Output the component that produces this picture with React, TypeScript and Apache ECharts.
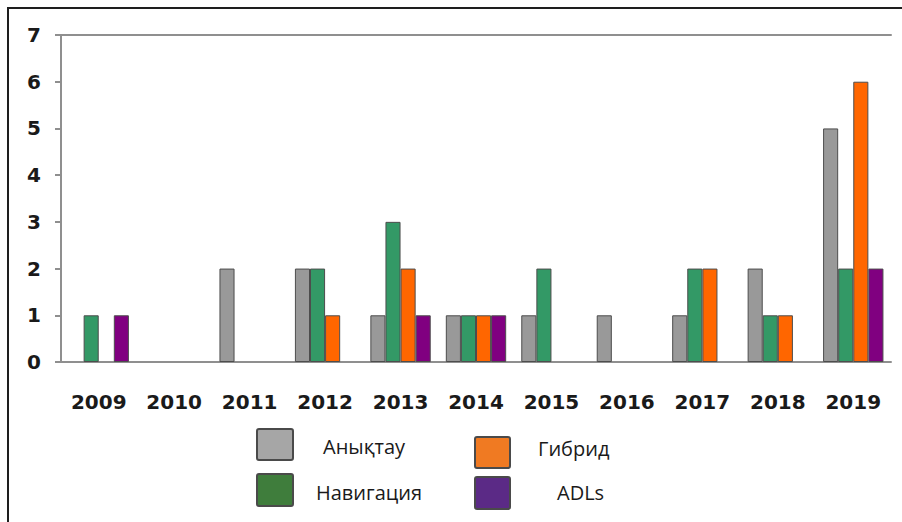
import React, { useEffect, useRef } from "react";
import * as echarts from "echarts";

const years = ["2009", "2010", "2011", "2012", "2013", "2014", "2015", "2016", "2017", "2018", "2019"];
const anyqtau = [0, 0, 2, 2, 1, 1, 1, 1, 1, 2, 5];
const navigatsiya = [1, 0, 0, 2, 3, 1, 2, 0, 2, 1, 2];
const gibrid = [0, 0, 0, 1, 2, 1, 0, 0, 2, 1, 6];
const adls = [1, 0, 0, 0, 1, 1, 0, 0, 0, 0, 2];

const seriesNames = ["Анықтау", "Навигация", "Гибрид", "ADLs"];
const barColors = ["#999999", "#339966", "#ff6600", "#800080"];
const legendColors = ["#a6a6a6", "#3f7d3c", "#f07a22", "#5b2a86"];

const AXIS_FONT = "'DejaVu Sans', Verdana, sans-serif";
const LEGEND_FONT = "'Open Sans', 'Noto Sans', sans-serif";

function legendEntry(
  color: string,
  label: string,
  box: { x: number; y: number; w: number; h: number },
  text: { x: number; y: number }
) {
  return [
    {
      type: "rect",
      shape: { x: box.x, y: box.y, width: box.w, height: box.h, r: 2 },
      style: { fill: color, stroke: "#4a4a4a", lineWidth: 2 },
    },
    {
      type: "text",
      x: text.x,
      y: text.y,
      style: {
        text: label,
        fill: "#1a1a1a",
        font: `20px ${LEGEND_FONT}`,
        textVerticalAlign: "middle",
      },
    },
  ];
}

export default function App() {
  const ref = useRef<HTMLDivElement>(null);

  useEffect(() => {
    if (!ref.current) return;
    const chart = echarts.init(ref.current, undefined, { renderer: "svg" });
    const allSeries = [anyqtau, navigatsiya, gibrid, adls];

    chart.setOption({
      animation: false,
      backgroundColor: "#ffffff",
      grid: { left: 61, right: 11, top: 35, bottom: 160 },
      xAxis: [
        {
          type: "category",
          data: years,
          axisLine: { lineStyle: { color: "#8f8f8f", width: 2 } },
          axisTick: { show: false },
          axisLabel: {
            color: "#1a1a1a",
            fontFamily: AXIS_FONT,
            fontWeight: "bold",
            fontSize: 20,
            margin: 30,
          },
        },
        {
          type: "category",
          data: years,
          position: "top",
          axisLine: { show: true, lineStyle: { color: "#8f8f8f", width: 2 } },
          axisTick: { show: false },
          axisLabel: { show: false },
        },
      ],
      yAxis: {
        type: "value",
        min: 0,
        max: 7,
        interval: 1,
        splitLine: { show: false },
        axisLine: { show: true, lineStyle: { color: "#8f8f8f", width: 2 } },
        axisTick: { show: true, length: 6, lineStyle: { color: "#8f8f8f", width: 2 } },
        axisLabel: {
          color: "#1a1a1a",
          fontFamily: AXIS_FONT,
          fontWeight: "bold",
          fontSize: 20,
          margin: 20,
        },
      },
      series: allSeries.map((values, i) => ({
        name: seriesNames[i],
        type: "bar",
        xAxisIndex: 0,
        data: values.map((v) => (v === 0 ? "-" : v)),
        barGap: "0%",
        barCategoryGap: "20%",
        itemStyle: { color: barColors[i], borderColor: "#4d4d4d", borderWidth: 1 },
      })),
      graphic: [
        ...legendEntry(legendColors[0], seriesNames[0], { x: 257, y: 429, w: 36, h: 31 }, { x: 323, y: 446 }),
        ...legendEntry(legendColors[1], seriesNames[1], { x: 257, y: 474, w: 36, h: 32 }, { x: 316, y: 492 }),
        ...legendEntry(legendColors[2], seriesNames[2], { x: 475, y: 437, w: 35, h: 31 }, { x: 538, y: 448 }),
        ...legendEntry(legendColors[3], seriesNames[3], { x: 475, y: 477, w: 35, h: 32 }, { x: 557, y: 492 }),
      ],
    });

    return () => chart.dispose();
  }, []);

  return (
    <div style={{ position: "fixed", left: 0, top: 0, width: 902, height: 522, background: "#fff" }}>
      <div ref={ref} style={{ position: "absolute", left: 0, top: 0, width: 902, height: 522 }} />
      <div
        style={{
          position: "absolute",
          left: 7,
          top: 7,
          right: 0,
          bottom: 0,
          borderTop: "2px solid #1e1e1e",
          borderLeft: "2px solid #1e1e1e",
          pointerEvents: "none",
        }}
      />
    </div>
  );
}
